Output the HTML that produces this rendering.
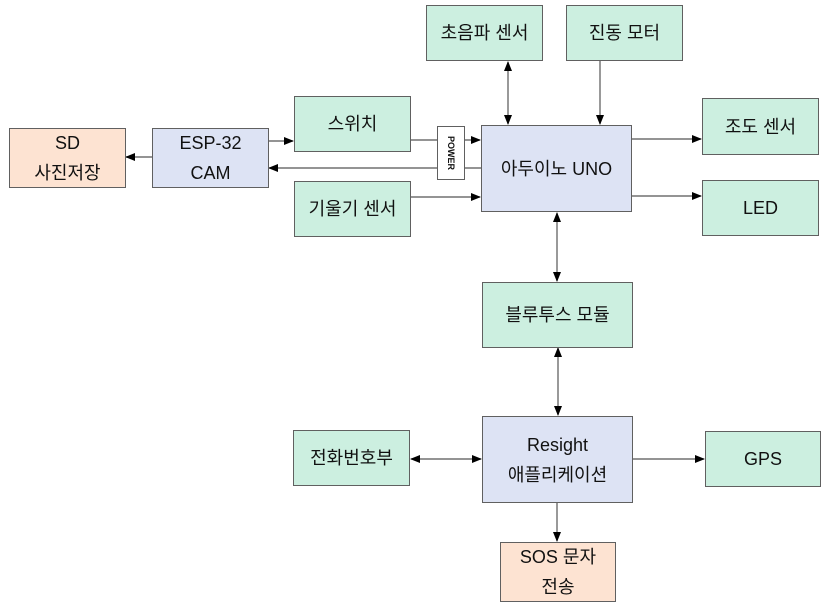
<!DOCTYPE html>
<html><head><meta charset="utf-8"><style>
body{margin:0;background:#fff;width:829px;height:615px;overflow:hidden;position:relative;font-family:"Liberation Sans","Noto Sans CJK KR",sans-serif;}
.b{position:absolute;box-sizing:border-box;border:1.5px solid #606060;display:flex;align-items:center;justify-content:center;text-align:center;font-size:18px;line-height:30px;color:#111;}
.g{background:#ccefe0}.u{background:#dde3f4}.p{background:#fde3d2}
svg{position:absolute;left:0;top:0}
</style></head><body>
<svg width="829" height="615">
<defs><marker id="a" markerWidth="10" markerHeight="8" refX="9" refY="4" orient="auto-start-reverse" markerUnits="userSpaceOnUse"><path d="M0,0L10,4L0,8z" fill="#000"/></marker></defs>
<g stroke="#555" stroke-width="1.2" fill="none">
<line x1="152" y1="157" x2="126" y2="157" marker-end="url(#a)"/>
<line x1="268" y1="141" x2="293" y2="141" marker-end="url(#a)"/>
<line x1="410" y1="140" x2="480" y2="140" marker-end="url(#a)"/>
<line x1="481" y1="168" x2="269" y2="168" marker-end="url(#a)"/>
<line x1="410" y1="197" x2="480" y2="197" marker-end="url(#a)"/>
<line x1="508" y1="62" x2="508" y2="124" marker-start="url(#a)" marker-end="url(#a)"/>
<line x1="600" y1="61" x2="600" y2="124" marker-end="url(#a)"/>
<line x1="632" y1="139" x2="701" y2="139" marker-end="url(#a)"/>
<line x1="632" y1="196" x2="701" y2="196" marker-end="url(#a)"/>
<line x1="557" y1="213" x2="557" y2="281" marker-start="url(#a)" marker-end="url(#a)"/>
<line x1="558" y1="348" x2="558" y2="415" marker-start="url(#a)" marker-end="url(#a)"/>
<line x1="411" y1="459" x2="481" y2="459" marker-start="url(#a)" marker-end="url(#a)"/>
<line x1="632" y1="459" x2="704" y2="459" marker-end="url(#a)"/>
<line x1="557" y1="502" x2="557" y2="541" marker-end="url(#a)"/>
</g></svg>
<div class="b p" style="left:9px;top:128px;width:117px;height:60px">SD<br>사진저장</div>
<div class="b u" style="left:152px;top:128px;width:117px;height:60px">ESP-32<br>CAM</div>
<div class="b g" style="left:294px;top:96px;width:117px;height:56px">스위치</div>
<div class="b g" style="left:294px;top:181px;width:117px;height:56px">기울기 센서</div>
<div class="b" style="left:437px;top:126px;width:28px;height:54px;background:#fff;border-width:1px;font-size:9px;font-weight:bold;"><span style="transform:rotate(90deg);display:inline-block;line-height:10px">POWER</span></div>
<div class="b u" style="left:481px;top:125px;width:151px;height:87px">아두이노 UNO</div>
<div class="b g" style="left:426px;top:5px;width:117px;height:56px">초음파 센서</div>
<div class="b g" style="left:566px;top:5px;width:117px;height:56px">진동 모터</div>
<div class="b g" style="left:702px;top:98px;width:117px;height:57px">조도 센서</div>
<div class="b g" style="left:702px;top:180px;width:117px;height:56px">LED</div>
<div class="b g" style="left:482px;top:282px;width:151px;height:66px">블루투스 모듈</div>
<div class="b u" style="left:482px;top:416px;width:151px;height:87px">Resight<br>애플리케이션</div>
<div class="b g" style="left:293px;top:430px;width:117px;height:56px">전화번호부</div>
<div class="b g" style="left:705px;top:431px;width:116px;height:56px">GPS</div>
<div class="b p" style="left:500px;top:542px;width:116px;height:60px">SOS 문자<br>전송</div>
</body></html>
